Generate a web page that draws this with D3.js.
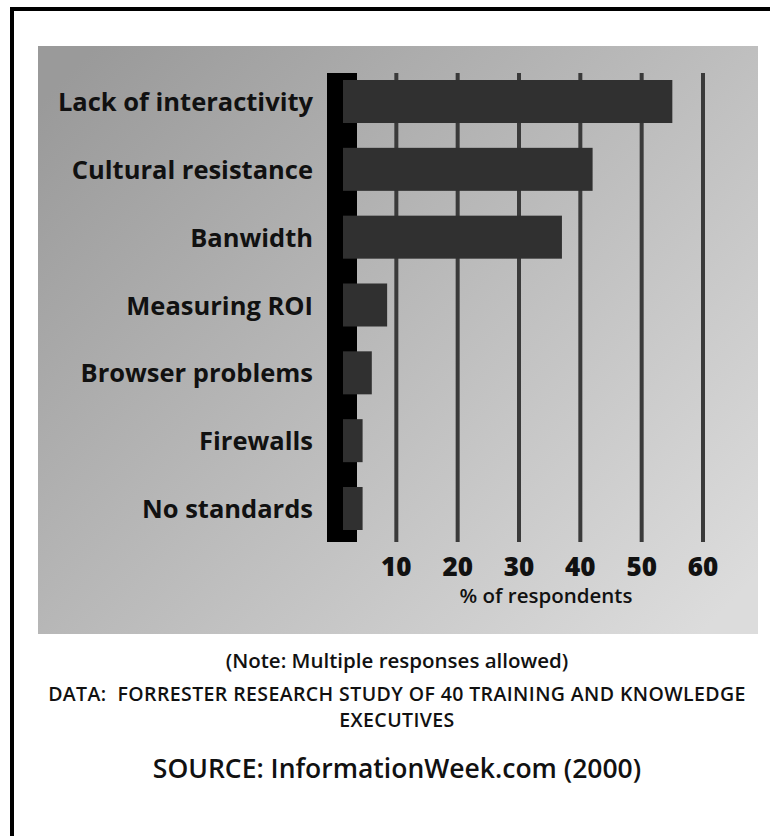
<!DOCTYPE html>
<html>
<head>
<meta charset="utf-8">
<script src="https://cdn.jsdelivr.net/npm/d3@7"></script>
<style>
    body { margin: 0; background: #fff; overflow: hidden; }
    svg { display: block; }
    .catLabel { font-family: "Open Sans", sans-serif; font-weight: 700; font-size: 25.5px; fill: #111; }
    .tickLabel { font-family: "Open Sans", sans-serif; font-weight: 800; font-size: 26px; fill: #111; }
    .axisTitle { font-family: "Open Sans", sans-serif; font-weight: 600; font-size: 20.5px; fill: #111; }
    .footer { font-family: "Open Sans", sans-serif; font-weight: 600; fill: #111; }
</style>
</head>
<body>
<script>
//chart data
var categories = ["Lack of interactivity", "Cultural resistance", "Banwidth", "Measuring ROI",
    "Browser problems", "Firewalls", "No standards"];
var values = [55, 42, 37, 8.5, 6, 4.5, 4.5];
var tickValues = [10, 20, 30, 40, 50, 60];
var axisTitle = "% of respondents";
var footerLines = ["(Note: Multiple responses allowed)",
    "DATA:  FORRESTER RESEARCH STUDY OF 40 TRAINING AND KNOWLEDGE",
    "EXECUTIVES",
    "SOURCE: InformationWeek.com (2000)"];

(function () {
    var width = 770,
        height = 836;

    var svg = d3.select("body")
        .append("svg")
        .attr("width", width)
        .attr("height", height);

    //gradient for the gray panel
    var grad = svg.append("defs").append("linearGradient")
        .attr("id", "panelGrad")
        .attr("x1", 0).attr("y1", 0.1)
        .attr("x2", 1).attr("y2", 0.9);
    grad.append("stop").attr("offset", 0).attr("stop-color", "#9a9a9a");
    grad.append("stop").attr("offset", 1).attr("stop-color", "#dcdcdc");

    //outer black frame, only the left and top edges fall in the picture
    svg.append("path")
        .attr("d", "M12," + height + "V9H" + width)
        .attr("fill", "none")
        .attr("stroke", "#000")
        .attr("stroke-width", 4);

    //gray panel
    svg.append("rect")
        .attr("x", 38).attr("y", 46)
        .attr("width", 720).attr("height", 588)
        .attr("fill", "url(#panelGrad)");

    //scales
    var x = d3.scaleLinear()
        .domain([0, 60])
        .range([335, 703]);

    var y = d3.scaleBand()
        .domain(categories)
        .range([80, 530])
        .paddingInner(0.366)
        .paddingOuter(0);

    var gridTop = y.range()[0] - 7,
        gridBottom = y.range()[1] + 12;

    //vertical grid lines
    svg.selectAll(".gridLine")
        .data(tickValues)
        .enter()
        .append("line")
        .attr("class", "gridLine")
        .attr("x1", function (d) { return x(d); })
        .attr("x2", function (d) { return x(d); })
        .attr("y1", gridTop)
        .attr("y2", gridBottom)
        .attr("stroke", "#3a3a3a")
        .attr("stroke-width", 4);

    //thick black axis bar
    svg.append("rect")
        .attr("x", x(0) - 8)
        .attr("y", gridTop)
        .attr("width", 30)
        .attr("height", gridBottom - gridTop)
        .attr("fill", "#000");

    //bars
    svg.selectAll(".bar")
        .data(values)
        .enter()
        .append("rect")
        .attr("class", "bar")
        .attr("x", x(0) + 8)
        .attr("y", function (d, i) { return y(categories[i]); })
        .attr("width", function (d) { return x(d) - x(0) - 8; })
        .attr("height", y.bandwidth())
        .attr("fill", "#303030");

    //category labels
    svg.selectAll(".catLabel")
        .data(categories)
        .enter()
        .append("text")
        .attr("class", "catLabel")
        .attr("x", 313)
        .attr("y", function (d) { return y(d) + y.bandwidth() / 2 + 9.5; })
        .attr("text-anchor", "end")
        .text(function (d) { return d; });

    //tick labels
    svg.selectAll(".tickLabel")
        .data(tickValues)
        .enter()
        .append("text")
        .attr("class", "tickLabel")
        .attr("x", function (d) { return x(d); })
        .attr("y", 576)
        .attr("text-anchor", "middle")
        .text(function (d) { return d; });

    svg.append("text")
        .attr("class", "axisTitle")
        .attr("x", 546)
        .attr("y", 603)
        .attr("text-anchor", "middle")
        .text(axisTitle);

    //footer notes
    var footerY = [668, 701, 727, 778],
        footerSize = [20.5, 19.5, 19.5, 26.5],
        footerSpacing = [0, 0.4, 0.4, 0];
    svg.selectAll(".footer")
        .data(footerLines)
        .enter()
        .append("text")
        .attr("class", "footer")
        .attr("x", 397)
        .attr("y", function (d, i) { return footerY[i]; })
        .attr("text-anchor", "middle")
        .style("font-size", function (d, i) { return footerSize[i] + "px"; })
        .style("letter-spacing", function (d, i) { return footerSpacing[i] + "px"; })
        .style("white-space", "pre")
        .text(function (d) { return d; });
})();
</script>
</body>
</html>
